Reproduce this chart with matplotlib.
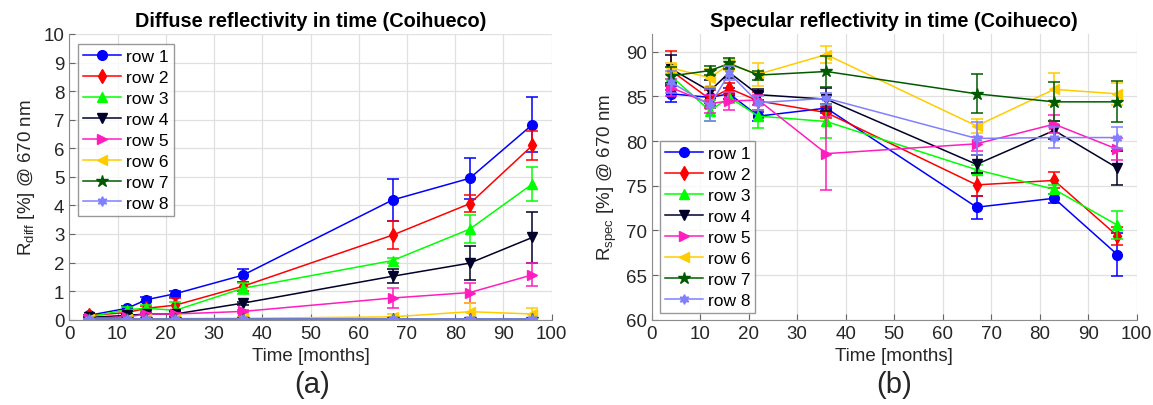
import numpy as np
from matplotlib import pyplot as plt
import matplotlib as mpl

plt.rcParams['font.family'] = ['Liberation Sans', 'DejaVu Sans']
plt.rcParams['mathtext.default'] = 'regular'

months = [4, 12, 16, 22, 36, 67, 83, 96]
row_names = ["row 1", "row 2", "row 3", "row 4", "row 5", "row 6", "row 7", "row 8"]
row_colors = ["#0000FF", "#FF0000", "#00FF00", "#00002A", "#FF1DBE", "#FFCC00", "#005A00", "#8080FF"]
row_markers = ["o", "d", "^", "v", ">", "<", "*", (6, 1, 0)]

# diffuse reflectivity [%]
diff_vals = [
    [0.15, 0.40, 0.70, 0.91, 1.56, 4.19, 4.95, 6.83],
    [0.15, 0.25, 0.40, 0.51, 1.17, 2.96, 4.06, 6.10],
    [0.10, 0.35, 0.40, 0.33, 1.10, 2.07, 3.17, 4.75],
    [0.08, 0.15, 0.20, 0.20, 0.58, 1.52, 1.98, 2.88],
    [0.05, 0.10, 0.20, 0.20, 0.29, 0.76, 0.95, 1.57],
    [0.02, 0.03, 0.03, 0.04, 0.05, 0.10, 0.28, 0.20],
    [0.01, 0.01, 0.01, 0.01, 0.01, 0.01, 0.01, 0.01],
    [0.02, 0.02, 0.02, 0.02, 0.02, 0.02, 0.02, 0.02],
]
diff_errs = [
    [0.03, 0.08, 0.08, 0.10, 0.23, 0.72, 0.71, 0.95],
    [0.03, 0.05, 0.08, 0.25, 0.15, 0.50, 0.30, 0.50],
    [0.02, 0.08, 0.10, 0.30, 0.20, 0.10, 0.50, 0.60],
    [0.02, 0.05, 0.05, 0.10, 0.05, 0.25, 0.60, 0.90],
    [0.02, 0.03, 0.05, 0.05, 0.05, 0.35, 0.35, 0.40],
    [0.01, 0.02, 0.02, 0.02, 0.03, 0.10, 0.30, 0.20],
    [0.01, 0.01, 0.01, 0.01, 0.01, 0.01, 0.01, 0.01],
    [0.01, 0.01, 0.01, 0.01, 0.01, 0.01, 0.01, 0.01],
]

# specular reflectivity [%]
spec_vals = [
    [85.3, 84.9, 85.3, 82.8, 83.7, 72.6, 73.6, 67.3],
    [87.9, 84.7, 85.9, 84.5, 83.2, 75.1, 75.6, 69.4],
    [87.3, 83.4, 84.9, 82.8, 82.2, 76.8, 74.6, 70.6],
    [88.1, 85.6, 87.7, 85.2, 84.7, 77.4, 81.2, 77.0],
    [86.0, 84.2, 84.5, 84.6, 78.6, 79.7, 81.9, 79.1],
    [88.2, 87.1, 88.6, 87.5, 89.7, 81.7, 85.8, 85.3],
    [87.3, 87.9, 88.7, 87.4, 87.8, 85.3, 84.4, 84.4],
    [86.6, 84.0, 87.6, 84.3, 84.8, 80.3, 80.4, 80.4],
]
spec_errs = [
    [0.9, 1.0, 0.6, 0.5, 0.5, 1.3, 0.5, 2.4],
    [2.2, 1.0, 0.6, 1.0, 0.6, 1.3, 0.9, 1.0],
    [1.0, 1.2, 0.6, 1.3, 1.8, 0.5, 0.5, 1.6],
    [1.6, 1.3, 0.6, 0.6, 1.3, 1.0, 1.0, 1.9],
    [1.0, 1.0, 1.0, 0.6, 4.1, 0.8, 1.0, 1.2],
    [0.6, 1.0, 0.6, 1.3, 0.9, 0.8, 1.8, 1.2],
    [1.0, 0.5, 0.6, 0.5, 1.7, 2.2, 2.2, 2.3],
    [1.2, 1.8, 0.8, 0.8, 0.6, 1.8, 1.2, 1.2],
]

text_c = (0.15, 0.15, 0.15)
fig = plt.figure(figsize=(11.53, 4.06), dpi=100)
ax1 = fig.add_axes([0.0601, 0.2101, 0.4184, 0.7037])
ax2 = fig.add_axes([0.5652, 0.2101, 0.4206, 0.7037])


def draw_rows(ax, vals, errs):
    for name, c, m, v, e in zip(row_names, row_colors, row_markers, vals, errs):
        ax.errorbar(months, v, yerr=e, fmt="none", ecolor=c, capsize=4, elinewidth=1.1, capthick=1.1)
        ax.plot(months, v, color=c, marker=m, markersize=7 if m != "*" else 9, lw=1.1, label=name)


def style_axes(ax):
    for s in ["top", "right"]:
        ax.spines[s].set_visible(False)
    for s in ["left", "bottom"]:
        ax.spines[s].set_color((0.55, 0.55, 0.55))
    ax.tick_params(direction="in", labelsize=13.5, colors=text_c, length=4)
    ax.tick_params(color=(0.4, 0.4, 0.4))
    ax.grid(True, color=(0.88, 0.88, 0.88), lw=0.9)
    ax.set_axisbelow(True)
    ax.set_xlim(0, 100)
    ax.set_xticks(np.arange(0, 101, 10))
    ax.set_xlabel("Time [months]", fontsize=13.5, color=text_c, labelpad=4)


leg_kw = dict(fontsize=12.5, frameon=True, fancybox=False, edgecolor=(0.5, 0.5, 0.5),
              handlelength=2.2, labelspacing=0.33, borderpad=0.3, handletextpad=0.25,
              borderaxespad=0.0)

draw_rows(ax1, diff_vals, diff_errs)
style_axes(ax1)
ax1.set_ylim(0, 10)
ax1.set_yticks(np.arange(0, 11, 1))
ax1.set_ylabel("R$_{diff}$ [%] @ 670 nm", fontsize=13.5, color=text_c, labelpad=5)
ax1.set_title("Diffuse reflectivity in time (Coihueco)", fontsize=14.3, fontweight="bold", pad=6)
ax1.legend(loc="upper left", bbox_to_anchor=(0.018, 0.965), **leg_kw)

draw_rows(ax2, spec_vals, spec_errs)
style_axes(ax2)
ax2.set_ylim(60, 92)
ax2.set_yticks(np.arange(60, 91, 5))
ax2.set_ylabel("R$_{spec}$ [%] @ 670 nm", fontsize=13.5, color=text_c, labelpad=5)
ax2.set_title("Specular reflectivity in time (Coihueco)", fontsize=14.3, fontweight="bold", pad=6)
ax2.legend(loc="lower left", bbox_to_anchor=(0.017, 0.024), **leg_kw)

fig.text(312 / 1153, 1 - 385 / 406, "(a)", fontsize=21, ha="center", va="center", color=text_c)
fig.text(894 / 1153, 1 - 385 / 406, "(b)", fontsize=21, ha="center", va="center", color=text_c)

fig.savefig("out.png", dpi=100)
